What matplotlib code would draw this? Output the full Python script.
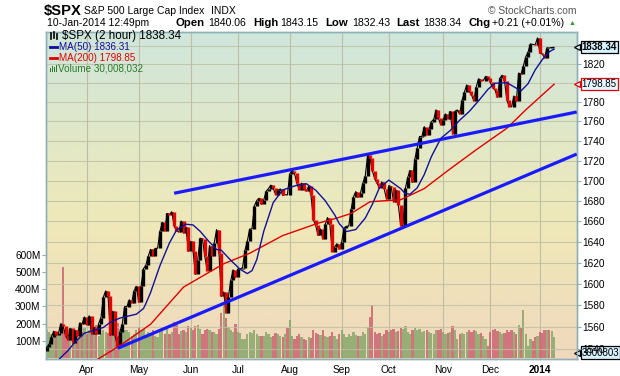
import numpy as np
import pandas as pd
import matplotlib
matplotlib.use("Agg")
import matplotlib.pyplot as plt
from matplotlib.collections import LineCollection
from matplotlib.colors import LinearSegmentedColormap
from matplotlib.lines import Line2D
from matplotlib.patches import Rectangle
import matplotlib.transforms as mtransforms

plt.rcParams['font.family'] = ['Liberation Sans', 'DejaVu Sans']

# ---------------- data ----------------
start_date = "2013-03-06"
end_date = "2014-01-10"
holidays = ["2013-03-29", "2013-05-27", "2013-07-04", "2013-09-02",
            "2013-11-28", "2013-12-25", "2014-01-01"]

closes = [
    # Mar
    1541.5, 1544.3, 1551.2, 1556.2, 1552.5, 1554.5, 1563.2, 1560.7, 1552.1, 1548.3,
    1558.7, 1545.8, 1556.9, 1551.7, 1563.8, 1562.9, 1569.2,
    # Apr
    1562.2, 1570.3, 1553.7, 1560.0, 1553.3, 1563.1, 1568.6, 1587.7, 1593.4, 1588.9,
    1552.4, 1574.6, 1552.0, 1541.6, 1555.3, 1562.5, 1578.8, 1578.8, 1585.2, 1582.2,
    1593.6, 1597.6,
    # May
    1582.7, 1597.6, 1614.4, 1617.5, 1626.0, 1632.7, 1626.7, 1633.7, 1633.8, 1650.3,
    1658.8, 1650.5, 1667.5, 1666.3, 1669.2, 1655.4, 1650.5, 1649.6, 1660.1, 1648.4,
    1654.4, 1630.7,
    # Jun
    1640.4, 1631.4, 1608.9, 1622.6, 1643.4, 1642.8, 1626.1, 1612.5, 1636.4, 1626.7,
    1639.0, 1651.8, 1628.9, 1588.2, 1592.4, 1573.1, 1588.0, 1603.3, 1613.2, 1606.3,
    # Jul
    1614.1, 1614.1, 1615.4, 1631.9, 1640.5, 1652.3, 1652.6, 1675.0, 1680.2, 1682.5,
    1676.3, 1680.9, 1689.4, 1692.1, 1695.5, 1692.4, 1685.9, 1690.3, 1691.7, 1685.3,
    1686.0, 1685.7,
    # Aug
    1706.9, 1709.7, 1707.1, 1697.4, 1690.9, 1697.5, 1691.4, 1689.5, 1694.2, 1685.4,
    1661.3, 1655.8, 1646.1, 1652.4, 1642.8, 1657.0, 1663.5, 1656.8, 1630.5, 1635.0,
    1638.2, 1633.0,
    # Sep
    1639.8, 1653.1, 1655.1, 1655.2, 1671.7, 1684.0, 1689.1, 1683.4, 1688.0, 1697.6,
    1704.8, 1725.5, 1722.3, 1709.9, 1701.8, 1697.4, 1692.8, 1698.7, 1691.8, 1681.6,
    # Oct
    1695.0, 1693.9, 1678.7, 1690.5, 1676.1, 1655.5, 1656.4, 1692.6, 1703.2, 1710.1,
    1698.1, 1721.5, 1733.2, 1744.5, 1744.7, 1754.7, 1746.4, 1752.1, 1759.8, 1762.1,
    1772.0, 1763.3, 1756.5,
    # Nov
    1761.6, 1767.9, 1763.0, 1770.5, 1747.2, 1770.6, 1771.9, 1767.7, 1782.0, 1790.6,
    1798.2, 1791.5, 1787.9, 1781.4, 1795.9, 1804.8, 1802.5, 1802.8, 1807.2, 1805.8,
    # Dec
    1800.9, 1795.2, 1792.8, 1785.0, 1805.1, 1808.4, 1802.6, 1782.2, 1775.5, 1775.3,
    1786.5, 1781.0, 1810.7, 1809.6, 1818.3, 1828.0, 1833.3, 1842.0, 1841.4, 1841.1,
    1848.4,
    # Jan
    1832.0, 1831.4, 1826.8, 1837.9, 1837.5, 1838.1, 1838.3,
]

volumes_m = [
    165, 150, 140, 135, 150, 140, 155, 530, 150, 160, 150, 165, 140, 120, 140, 150, 175,
    140, 165, 180, 160, 190, 130, 140, 165, 150, 145, 200, 170, 190, 205, 170, 150, 160,
    165, 150, 130, 140, 160,
    180, 165, 170, 130, 150, 145, 160, 130, 120, 150, 155, 140, 170, 140, 150, 210, 190,
    140, 155, 165, 150, 185,
    175, 160, 185, 190, 170, 140, 160, 170, 165, 150, 150, 140, 170, 260, 320, 230, 180,
    160, 150, 200,
    150, 145, 110, 110, 140, 150, 145, 160, 140, 130, 125, 130, 150, 140, 120, 130, 145,
    140, 130, 120, 140, 175,
    220, 130, 110, 130, 140, 120, 110, 105, 120, 115, 160, 145, 140, 135, 165, 130, 120,
    130, 150, 125, 110, 140,
    165, 140, 120, 140, 125, 150, 135, 130, 130, 150, 140, 180, 240, 310, 150, 140, 145,
    130, 140, 160,
    150, 165, 170, 150, 155, 175, 170, 185, 150, 140, 160, 175, 165, 170, 150, 155, 165,
    150, 145, 140, 160, 165, 170,
    150, 140, 145, 150, 185, 160, 110, 140, 145, 140, 150, 165, 150, 160, 155, 140, 145,
    130, 110, 70,
    150, 160, 170, 155, 150, 140, 145, 165, 150, 160, 150, 140, 190, 175, 280, 140, 70,
    110, 100, 120, 130,
    150, 145, 160, 165, 160, 155, 120,
]

ma50_dates = ["2013-03-12", "2013-03-15", "2013-03-19", "2013-03-22", "2013-03-28",
              "2013-04-05", "2013-04-10", "2013-04-15", "2013-04-19", "2013-04-25",
              "2013-04-30", "2013-05-03", "2013-05-06", "2013-05-08", "2013-05-14",
              "2013-05-20", "2013-05-23", "2013-05-30", "2013-06-04", "2013-06-07",
              "2013-06-13", "2013-06-18", "2013-06-20", "2013-06-26", "2013-07-02",
              "2013-07-08", "2013-07-10", "2013-07-12", "2013-07-17", "2013-07-23",
              "2013-07-29", "2013-08-06", "2013-08-12", "2013-08-16", "2013-08-22",
              "2013-08-28", "2013-08-30", "2013-09-05", "2013-09-11", "2013-09-17",
              "2013-09-20", "2013-09-25", "2013-10-01", "2013-10-08", "2013-10-10",
              "2013-10-14", "2013-10-17", "2013-10-22", "2013-10-25", "2013-10-31",
              "2013-11-06", "2013-11-12", "2013-11-18", "2013-11-22", "2013-11-29",
              "2013-12-04", "2013-12-11", "2013-12-16", "2013-12-19", "2013-12-24",
              "2013-12-30", "2014-01-03", "2014-01-08", "2014-01-10"]
ma50_values = [1528, 1534.5, 1538.5, 1546.3, 1554.4,
               1557.5, 1559.6, 1564.4, 1568.2, 1570.3,
               1571.8, 1577.0, 1581.5, 1591.8, 1617.3,
               1638.8, 1651.3, 1657.0, 1656.3, 1650.2,
               1639.6, 1632.6, 1631.9, 1622.3, 1613.7,
               1609.7, 1612.5, 1622.8, 1650.3, 1678.2,
               1690.7, 1695.3, 1696.9, 1690.4, 1680.1,
               1666.3, 1657.5, 1649.9, 1651.9, 1663.0,
               1676.5, 1692.8, 1700.5, 1692.0, 1687.0,
               1686.5, 1692.7, 1706.0, 1724.0, 1742.6,
               1750.7, 1761.3, 1770.2, 1781.4, 1793.5,
               1799.9, 1800.5, 1796.2, 1791.8, 1799.5,
               1814.0, 1825.0, 1833.5, 1836.31]

ma200_dates = ["2013-03-28", "2013-04-05", "2013-04-19", "2013-05-08", "2013-05-29",
               "2013-06-21", "2013-07-09", "2013-07-29", "2013-08-19", "2013-08-29",
               "2013-09-09", "2013-09-19", "2013-10-08", "2013-10-22", "2013-11-05",
               "2013-11-21", "2013-12-11", "2013-12-23", "2014-01-10"]
ma200_values = [1522, 1530, 1543, 1562.5, 1597,
                1619, 1629, 1646, 1658, 1663,
                1667.5, 1679, 1681, 1692, 1710,
                1731, 1753, 1772, 1798.85]

# trend lines: two anchor (date, price) pairs each, extended to the right edge
upper_trend_dates = ["2013-05-22", "2013-09-19"]
upper_trend_prices = [1687.4, 1727.0]
lower_trend_dates = ["2013-04-18", "2013-10-08"]
lower_trend_prices = [1540.6, 1652.8]

price_ticks = list(range(1540, 1841, 20))
hidden_price_labels = [1800, 1840]   # covered by the value tags in the original
volume_ticks = [100, 200, 300, 400, 500, 600]
last_price = 1838.34
ma50_last = 1836.31
ma200_last = 1798.85
last_volume_m = 30.008032

# ---------------- geometry ----------------
W, H = 620, 376
fig = plt.figure(figsize=(W / 100, H / 100), dpi=100)
fig.patch.set_facecolor('white')
L, R, T, B = 46, 576.7, 31.7, 359
ax_v = fig.add_axes([L / W, 1 - B / H, (R - L) / W, (B - T) / H])
ax_p = ax_v.twinx()

dates = pd.bdate_range(start_date, end_date)
dates = dates[~dates.isin(pd.to_datetime(holidays))]
n = min(len(dates), len(closes))
dates = dates[:n]
c = np.array(closes[:n])
vol = np.array(volumes_m[:n])
idx = np.arange(n)
pos = {d.strftime("%Y-%m-%d"): i for i, d in enumerate(dates)}

xmin, xmax = -0.3, 224.6

# background gradient
cmap = LinearSegmentedColormap.from_list(
    "bg", [(0.0, "#cfe6dd"), (0.35, "#e3e8c6"), (0.6, "#efe8b8"), (1.0, "#efd8bd")])
grad = np.linspace(0, 1, 256).reshape(-1, 1)
ax_v.imshow(grad, extent=[0, 1, 0, 1], transform=ax_v.transAxes, aspect='auto',
            cmap=cmap, zorder=0, interpolation='bilinear')

# volume
up = np.r_[True, c[1:] >= c[:-1]]
vcol = np.where(up, "#7fa263", "#c9596a")
ax_v.bar(idx, vol, width=0.95, color=vcol, alpha=0.78, zorder=2, linewidth=0)
ax_v.set_xlim(xmin, xmax)
ax_v.set_ylim(-7, 1902)

# month gridlines / ticks
month_idx, month_lab = [], []
for i in range(1, n):
    if dates[i].month != dates[i - 1].month:
        month_idx.append(i)
        month_lab.append("2014" if dates[i].year == 2014 and dates[i].month == 1
                         else dates[i].strftime("%b"))
ax_v.set_xticks(month_idx)
ax_v.set_xticklabels(month_lab, fontsize=7.3)
for lab in ax_v.get_xticklabels():
    if lab.get_text() == "2014":
        lab.set_fontweight('bold')
ax_v.tick_params(axis='x', length=0, pad=4)
ax_v.xaxis.grid(True, color="#bdbfa4", lw=0.8, zorder=1)
ax_v.set_axisbelow(True)

ax_v.set_yticks(volume_ticks)
ax_v.set_yticklabels([f"{v}M" for v in volume_ticks], fontsize=7.3)
ax_v.tick_params(axis='y', direction='out', length=3, pad=1, color="#8fb0b8")

# price
ax_p.set_yscale('log')
ax_p.set_ylim(1531, 1855.2)
ax_p.set_xlim(xmin, xmax)
ax_p.yaxis.set_major_locator(matplotlib.ticker.FixedLocator(price_ticks))
ax_p.yaxis.set_minor_locator(matplotlib.ticker.NullLocator())
ax_p.yaxis.set_major_formatter(matplotlib.ticker.FuncFormatter(
    lambda v, p: "" if round(v) in hidden_price_labels else f"{v:.0f}"))
ax_p.tick_params(axis='y', direction='out', length=3, pad=1, labelsize=7.3, color="#8fb0b8")
ax_p.yaxis.grid(True, color="#bdbfa4", lw=0.8, alpha=0.8)

segs, cols = [], []
for i in range(n):
    p0 = c[i - 1] if i > 0 else c[i] - 3
    segs.append([(i, p0), (i, c[i])])
    cols.append("black" if c[i] >= p0 else "#e60000")
ax_p.add_collection(LineCollection(segs, colors=cols, linewidths=2.4, zorder=3,
                                   capstyle='butt'))
ax_p.plot(idx, c, color="black", lw=0.8, zorder=2.9)

ax_p.plot([pos[d] for d in ma200_dates], ma200_values, color="#e00000", lw=1.0, zorder=4)
ax_p.plot([pos[d] for d in ma50_dates], ma50_values, color="#11119a", lw=1.0, zorder=4)


def trend(dl, pl):
    x0, x1 = pos[dl[0]], pos[dl[1]]
    l0, l1 = np.log(pl[0]), np.log(pl[1])
    xe = xmax
    le = l0 + (l1 - l0) * (xe - x0) / (x1 - x0)
    return [x0, xe], [pl[0], np.exp(le)]


for dl, pl in ((upper_trend_dates, upper_trend_prices), (lower_trend_dates, lower_trend_prices)):
    xs, ys = trend(dl, pl)
    ax_p.plot(xs, ys, color="#1a1aff", lw=2.3, zorder=5, solid_capstyle='butt')

for a in (ax_v, ax_p):
    for s in a.spines.values():
        s.set_color("#8fb0b8")
        s.set_linewidth(1.0)


# right side value tags
def tag(ax, y, text, ec, fc, bold=False):
    ax.annotate(text, xy=(1, y), xycoords=('axes fraction', 'data'),
                xytext=(3.6, 0), textcoords='offset points', va='center', ha='left',
                fontsize=7.0, fontweight='bold' if bold else 'normal',
                annotation_clip=False, zorder=10,
                bbox=dict(boxstyle="square,pad=0.12", fc=fc, ec=ec, lw=0.9))
    tr = mtransforms.blended_transform_factory(ax.transAxes, ax.transData)
    ax.plot([1.0], [y], transform=tr, marker='<', ms=5, mfc=fc, mec=ec, mew=0.9,
            clip_on=False, zorder=11)


tag(ax_p, last_price, f"{last_price:.2f}", "black", "#d6f3ff", bold=True)
tag(ax_p, ma200_last, f"{ma200_last:.2f}", "#e00000", "#e6f6ff")
tag(ax_v, last_volume_m, f"{last_volume_m * 100000:.0f}"[:7], "black", "#d6f3ff")


# ---------------- header / legend texts ----------------
def ft(x, y, s, **kw):
    kw.setdefault('va', 'center')
    fig.text(x / W, 1 - y / H, s, **kw)


ft(43.5, 11, "$SPX", fontsize=10.6, fontweight='bold')
ft(84.2, 11, "S&P 500 Large Cap Index", fontsize=7.5)
ft(211.5, 11, "INDX", fontsize=7.5)
ft(576, 11, "\u00a9 StockCharts.com", fontsize=7.4, ha='right', color="#555555")
ft(46.6, 23.3, "10-Jan-2014 12:49pm", fontsize=7.5)
items = [(175, "Open", True), (208, "1840.06", False), (253, "High", True),
         (280.6, "1843.15", False), (325, "Low", True), (351.8, "1832.43", False),
         (396.4, "Last", True), (423.7, "1838.34", False), (468.4, "Chg", True),
         (492, "+0.21 (+0.01%)", False)]
for x, s, b in items:
    ft(x, 23.3, s, fontsize=8.2 if b else 7.6, fontweight='bold' if b else 'normal')
ft(572, 23.3, "\u25b2", fontsize=5, color="#2e9a2e", ha='center')

# legend inside plot
ft(61.7, 35.8, "$SPX (2 hour) 1838.34", fontsize=8.4)
ft(59.3, 46.5, "MA(50) 1836.31", fontsize=7.1, color="#10109a")
ft(59.3, 57.8, "MA(200) 1798.85", fontsize=7.1, color="#e00000")
ft(57.5, 68.5, "Volume 30,008,032", fontsize=7.1, color="#2a7a2a")

fig.add_artist(Line2D([50 / W, 57 / W], [1 - 46.5 / H] * 2, color="#10109a", lw=2))
fig.add_artist(Line2D([50 / W, 57 / W], [1 - 57.8 / H] * 2, color="#e00000", lw=2))
for k, (yt, yb) in enumerate([(33, 39), (32, 38), (34, 39)]):
    xx = (50.5 + k * 3) / W
    fig.add_artist(Line2D([xx, xx], [1 - yt / H, 1 - yb / H], color="black", lw=1.2))
for k, hh in enumerate([4, 6, 5, 7]):
    fig.add_artist(Rectangle(((49.5 + k * 2) / W, 1 - 72 / H), 1.4 / W, hh / H,
                             color="#2a7a2a", lw=0))

fig.savefig("out.png", dpi=100)
